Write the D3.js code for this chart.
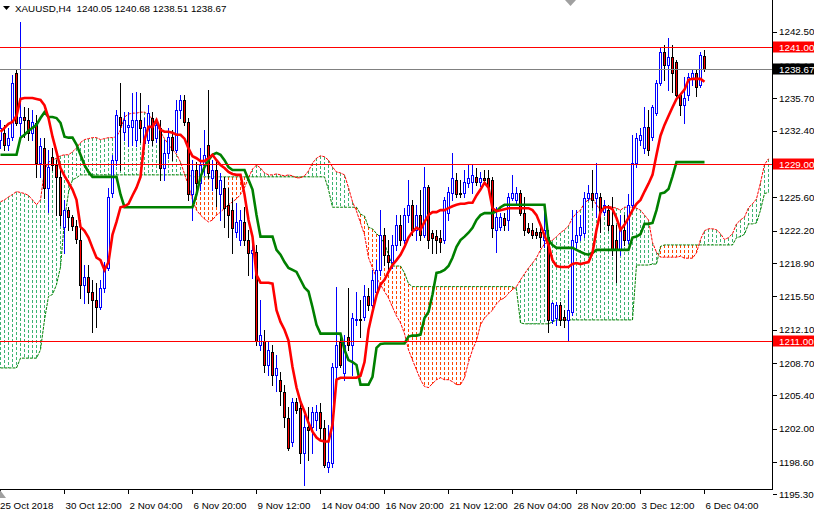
<!DOCTYPE html>
<html><head><meta charset="utf-8">
<script src="https://cdn.jsdelivr.net/npm/d3@7"></script>
<style>html,body{margin:0;padding:0;background:#fff}svg{display:block}</style>
</head><body><svg id="c" width="814" height="514"></svg>
<script>
// ---------- DATA ----------
const title = "XAUUSD,H4  1240.05 1240.68 1238.51 1238.67";
const opens = [
1231.5,1232.2,1231.0,1231.8,1238.3,1233.2,1233.8,1233.5,1232.2,1233.2,
1229.1,1230.65,1226.6,1229.75,1228.9,1227.7,1222.6,1224.3,1223.6,1222.7,
1221.25,1216.7,1217.5,1216.0,1215.15,1214.4,1216.4,1218.4,1226.1,1229.4,
1233.8,1232.3,1232.8,1232.8,1231.5,1233.5,1231.2,1231.5,1233.7,1231.7,
1232.7,1228.6,1230.15,1231.8,1230.45,1234.5,1235.55,1233.3,1225.9,1228.4,
1227.1,1228.9,1231.0,1227.6,1228.4,1225.9,1226.6,1224.85,1224.3,1222.1,
1221.25,1223.1,1221.25,1219.95,1220.05,1210.55,1211.0,1208.5,1209.85,1207.5,
1207.0,1205.7,1203.1,1200.6,1204.75,1204.15,1199.5,1202.2,1202.2,1202.9,
1203.75,1202.1,1198.1,1198.5,1208.3,1210.8,1207.7,1211.4,1210.55,1213.1,
1213.2,1213.4,1215.5,1214.6,1216.0,1218.2,1221.8,1219.75,1219.0,1220.75,
1222.8,1221.25,1223.8,1224.85,1222.3,1223.8,1221.8,1226.7,1222.0,1221.7,
1221.5,1221.25,1224.0,1226.1,1227.4,1226.1,1226.1,1227.1,1227.2,1227.7,
1227.2,1227.6,1227.6,1227.4,1222.3,1222.6,1223.5,1223.3,1225.55,1225.35,
1226.1,1224.0,1222.5,1222.3,1222.1,1222.1,1221.25,1221.6,1213.1,1213.3,
1214.6,1213.4,1213.1,1213.9,1221.05,1221.8,1222.0,1225.55,1226.1,1225.55,
1225.65,1224.1,1224.3,1222.8,1221.25,1220.25,1222.3,1221.25,1224.85,1229.1,
1231.5,1230.65,1232.8,1231.8,1234.2,1237.3,1240.4,1239.1,1239.9,1239.4,
1236.1,1235.0,1236.1,1237.8,1238.3,1237.1,1240.05];
const highs = [
1233.5,1233.0,1232.7,1238.1,1238.6,1243.5,1234.8,1234.7,1234.5,1234.0,
1231.7,1231.7,1230.45,1230.65,1229.4,1228.4,1225.35,1224.6,1223.8,1223.3,
1223.3,1218.7,1218.7,1217.2,1216.9,1217.2,1219.0,1226.6,1229.95,1234.5,
1237.3,1234.3,1234.3,1236.3,1236.4,1236.3,1233.7,1235.0,1234.3,1233.7,
1233.5,1231.5,1232.7,1232.5,1235.55,1236.1,1236.1,1233.7,1229.4,1229.2,
1230.65,1232.5,1236.6,1229.4,1229.4,1228.1,1227.7,1226.6,1225.55,1225.05,
1224.3,1224.6,1222.3,1221.25,1220.75,1215.15,1212.1,1211.0,1210.55,1209.5,
1207.8,1206.5,1204.25,1205.15,1205.15,1204.95,1203.4,1204.25,1204.25,1204.45,
1204.65,1202.9,1202.4,1208.7,1216.5,1211.8,1211.6,1216.4,1213.8,1215.9,
1215.15,1216.7,1216.4,1218.2,1219.2,1224.3,1222.5,1221.25,1221.8,1223.8,
1223.8,1224.5,1227.4,1225.35,1224.85,1226.4,1228.7,1226.9,1222.3,1222.3,
1222.3,1225.65,1226.7,1230.15,1228.1,1227.4,1228.4,1228.9,1228.9,1228.6,
1228.2,1228.4,1228.4,1227.7,1224.6,1224.0,1224.0,1226.1,1227.9,1226.7,
1226.4,1225.65,1223.0,1223.0,1222.5,1222.8,1224.85,1222.3,1214.95,1214.95,
1214.95,1214.1,1216.2,1224.3,1224.3,1223.8,1226.2,1226.9,1228.4,1229.1,
1226.1,1225.35,1224.85,1225.65,1222.8,1223.8,1223.8,1225.9,1232.0,1232.2,
1232.7,1234.8,1234.5,1235.0,1237.6,1241.0,1241.2,1241.9,1241.2,1239.6,
1236.2,1237.9,1238.3,1238.6,1238.6,1240.4,1240.68];
const lows = [
1230.65,1230.45,1230.45,1231.5,1233.0,1232.0,1231.8,1231.5,1231.5,1227.7,
1227.7,1225.55,1224.1,1228.4,1223.8,1222.8,1219.95,1222.3,1222.3,1220.95,
1215.35,1214.85,1214.85,1211.9,1212.4,1214.2,1215.9,1218.2,1225.65,1228.9,
1228.4,1231.5,1230.8,1231.0,1230.8,1231.3,1230.65,1231.2,1231.0,1231.3,
1227.4,1227.4,1229.6,1229.4,1230.25,1233.7,1233.0,1225.35,1223.3,1225.9,
1226.4,1227.9,1227.6,1226.4,1224.7,1223.3,1222.6,1221.6,1219.95,1221.6,
1220.75,1220.75,1217.7,1217.4,1210.55,1210.05,1207.8,1207.5,1206.5,1205.8,
1204.45,1202.2,1199.85,1200.2,1203.6,1198.5,1196.3,1198.8,1199.5,1201.9,
1200.9,1198.1,1197.6,1198.1,1207.2,1208.3,1207.0,1210.05,1207.5,1212.6,
1211.4,1213.1,1214.1,1214.4,1215.7,1217.7,1218.7,1218.0,1218.4,1220.25,
1220.75,1220.95,1223.1,1221.8,1221.25,1221.25,1221.6,1220.45,1219.95,1219.95,
1220.05,1220.95,1223.3,1225.35,1225.65,1225.65,1225.65,1226.7,1226.1,1226.9,
1226.8,1227.1,1226.4,1221.6,1220.05,1222.3,1222.3,1222.3,1225.35,1224.85,
1223.8,1221.8,1222.0,1221.5,1221.5,1220.55,1220.55,1211.9,1212.8,1212.6,
1212.6,1212.4,1211.0,1213.6,1220.25,1221.25,1221.6,1225.35,1224.6,1223.6,
1222.1,1223.8,1222.3,1219.75,1217.0,1219.75,1220.75,1220.95,1224.3,1228.7,
1231.0,1230.15,1229.95,1231.5,1234.0,1237.1,1237.6,1236.6,1236.4,1235.9,
1234.0,1233.2,1235.55,1237.1,1235.9,1236.9,1238.51];
const closes = [
1232.7,1231.0,1231.7,1237.3,1233.2,1233.8,1233.5,1232.2,1233.3,1229.1,
1230.8,1226.6,1228.7,1228.9,1227.7,1223.8,1224.3,1223.6,1222.7,1221.4,
1216.7,1217.5,1216.0,1215.15,1214.4,1216.4,1218.2,1225.65,1229.4,1234.0,
1233.0,1233.5,1233.0,1233.5,1233.5,1232.7,1232.8,1234.2,1231.5,1233.0,
1228.6,1230.15,1231.8,1230.45,1234.5,1235.55,1233.3,1225.9,1228.4,1227.1,
1228.9,1229.95,1228.1,1228.4,1226.6,1227.4,1224.5,1223.8,1222.5,1223.1,
1223.3,1221.25,1219.95,1220.25,1211.0,1211.6,1208.5,1210.05,1207.5,1208.2,
1205.8,1203.2,1200.05,1204.75,1203.95,1199.5,1202.2,1201.9,1203.75,1203.75,
1202.1,1198.3,1198.6,1208.3,1210.55,1208.5,1210.55,1210.55,1213.3,1213.2,
1213.1,1215.5,1214.6,1217.2,1218.2,1221.8,1219.75,1219.0,1220.75,1222.8,
1221.25,1223.8,1224.85,1222.3,1223.8,1221.8,1226.7,1221.25,1221.5,1221.25,
1221.05,1225.35,1226.2,1227.6,1225.9,1225.9,1227.2,1227.6,1227.9,1227.2,
1227.6,1227.4,1226.7,1222.5,1223.6,1223.6,1222.8,1225.65,1226.1,1226.1,
1224.0,1222.3,1222.1,1221.8,1221.8,1221.6,1222.3,1213.1,1214.85,1214.6,
1213.1,1213.1,1214.1,1221.25,1221.8,1222.6,1225.55,1226.1,1225.35,1226.1,
1224.1,1224.85,1222.8,1220.25,1220.25,1222.3,1221.25,1224.85,1229.1,1231.7,
1232.0,1232.8,1230.45,1234.8,1237.3,1240.4,1239.1,1239.9,1238.3,1236.1,
1235.0,1235.75,1237.9,1238.3,1236.9,1240.1,1238.67];
const tenkan = [
1232.3,1232.7,1233.1,1233.3,1233.9,1235.65,1235.75,1235.75,1235.75,1235.65,
1235.55,1235.0,1233.7,1231.8,1230.25,1228.6,1227.8,1227.1,1226.4,1225.35,
1222.6,1222.2,1221.5,1220.45,1219.45,1219.2,1218.2,1219.0,1221.8,1223.1,
1224.6,1224.7,1224.95,1225.8,1226.6,1227.7,1231.5,1232.8,1232.8,1233.5,
1232.5,1232.3,1232.3,1232.2,1232.0,1232.0,1231.6,1230.6,1229.8,1229.6,
1229.3,1229.3,1229.6,1229.95,1229.4,1228.9,1228.6,1228.2,1228.0,1227.9,
1227.9,1225.9,1223.3,1221.6,1217.7,1216.9,1216.9,1216.9,1216.8,1214.1,
1212.9,1212.1,1211.0,1208.3,1206.2,1204.75,1203.75,1202.6,1201.7,1201.1,
1200.8,1200.7,1200.7,1202.4,1207.0,1207.2,1207.2,1207.2,1207.2,1207.2,
1207.4,1208.8,1212.1,1213.9,1215.6,1216.7,1217.2,1218.0,1218.7,1219.2,
1219.75,1220.55,1221.5,1222.1,1222.5,1222.3,1223.1,1223.8,1224.1,1224.1,
1224.3,1224.3,1224.5,1224.7,1224.85,1224.95,1224.95,1225.05,1225.05,1225.8,
1226.4,1227.1,1226.6,1224.5,1224.2,1224.3,1224.4,1224.5,1224.5,1224.5,
1224.5,1224.5,1224.5,1224.3,1223.8,1222.8,1221.7,1220.75,1219.2,1218.6,
1218.5,1218.5,1218.5,1218.8,1218.9,1218.8,1218.9,1219.0,1219.95,1222.3,
1224.1,1224.6,1224.6,1224.4,1223.5,1222.3,1222.8,1223.5,1224.3,1224.95,
1225.35,1226.2,1227.0,1227.9,1229.95,1231.9,1233.0,1233.9,1234.8,1235.65,
1236.1,1236.6,1237.6,1237.7,1237.7,1237.7,1237.4];
const kijun = [
1229.95,1229.95,1229.95,1229.95,1229.95,1231.7,1232.0,1232.4,1232.7,1233.0,
1233.7,1234.3,1233.8,1233.8,1233.7,1233.2,1231.8,1231.7,1231.7,1231.0,
1229.95,1228.9,1228.2,1227.7,1227.7,1227.7,1227.7,1227.7,1227.7,1227.7,
1225.9,1224.6,1224.6,1224.6,1224.6,1224.6,1224.6,1224.6,1224.6,1224.6,
1224.6,1224.6,1224.6,1224.6,1224.6,1224.6,1224.6,1224.6,1224.6,1225.9,
1227.7,1228.7,1229.4,1229.95,1230.15,1229.95,1229.4,1228.7,1228.4,1228.4,
1228.4,1228.4,1227.4,1226.4,1223.8,1221.6,1221.6,1221.6,1221.6,1220.25,
1219.75,1219.0,1218.4,1218.2,1218.0,1217.2,1216.4,1216.0,1214.4,1212.6,
1211.7,1211.7,1211.7,1211.7,1211.7,1211.7,1210.05,1209.0,1208.8,1208.5,
1206.5,1206.5,1206.5,1207.3,1210.25,1210.65,1210.7,1210.7,1210.7,1210.7,
1210.7,1210.7,1211.4,1211.5,1211.5,1211.6,1213.3,1213.9,1215.7,1217.9,
1218.0,1218.2,1218.6,1219.45,1220.55,1221.25,1221.6,1222.0,1222.5,1223.3,
1223.8,1224.0,1224.0,1224.0,1224.2,1224.6,1224.85,1224.85,1224.85,1224.85,
1224.85,1224.85,1224.85,1224.85,1224.85,1224.85,1224.85,1221.25,1220.75,1220.45,
1220.45,1220.45,1220.45,1220.45,1220.25,1220.05,1219.85,1219.75,1219.95,1220.25,
1220.25,1220.25,1220.25,1220.25,1220.25,1220.25,1220.25,1220.25,1221.5,1221.6,
1221.85,1222.9,1222.9,1223.0,1224.3,1226.0,1226.1,1226.45,1227.75,1229.2,
1229.2,1229.2,1229.2,1229.2,1229.2,1229.2,1229.2];
const spanA = [
1225.15,1225.35,1225.65,1225.9,1226.2,1226.1,1226.0,1225.8,1225.35,1224.85,
1225.35,1228.4,1229.2,1229.4,1229.6,1229.85,1229.95,1229.95,1230.25,1230.65,
1231.2,1231.5,1231.6,1231.7,1231.7,1231.5,1231.6,1231.7,1231.7,1231.8,
1232.5,1233.8,1234.1,1234.2,1234.2,1234.3,1234.3,1234.0,1233.6,1233.0,
1232.3,1231.6,1231.0,1230.5,1230.0,1229.2,1228.0,1226.8,1225.35,1224.3,
1223.8,1223.4,1223.1,1223.3,1223.8,1224.1,1224.5,1224.85,1225.15,1225.45,
1225.9,1226.6,1227.6,1228.5,1228.9,1228.6,1228.1,1227.9,1227.9,1228.0,
1227.9,1227.8,1227.9,1227.8,1227.6,1227.6,1227.8,1228.3,1229.1,1229.6,
1229.85,1229.75,1229.4,1228.7,1228.2,1228.1,1227.9,1226.6,1225.15,1224.2,
1223.0,1221.8,1219.45,1218.4,1217.4,1216.7,1216.0,1215.35,1214.4,1213.5,
1212.8,1211.7,1210.05,1209.0,1208.0,1207.0,1206.3,1206.2,1206.6,1207.0,
1207.2,1207.0,1207.0,1206.8,1206.5,1206.5,1207.2,1208.8,1210.05,1211.0,
1212.6,1213.3,1213.7,1214.1,1214.75,1215.15,1215.35,1215.8,1216.2,1216.5,
1217.2,1217.8,1218.4,1218.9,1219.45,1220.25,1220.85,1221.05,1221.25,1221.6,
1222.0,1222.3,1222.7,1223.5,1224.0,1224.3,1225.05,1225.35,1225.55,1224.85,
1224.3,1224.6,1224.7,1224.6,1224.5,1224.3,1224.6,1224.6,1224.6,1224.5,
1224.3,1223.8,1223.3,1221.0,1220.0,1219.5,1219.5,1219.5,1219.5,1219.5,
1219.6,1219.4,1219.4,1219.4,1219.95,1221.3,1222.2,1222.4,1222.4,1222.3,
1221.9,1221.3,1221.5,1221.9,1222.9,1223.3,1223.6,1224.55,1224.95,1225.45,
1227.1,1228.95,1229.55];
const spanB = [
1208.2,1208.2,1208.2,1208.2,1208.2,1209.2,1209.2,1209.2,1209.2,1209.2,
1210.05,1213.1,1215.5,1215.7,1216.7,1218.5,1223.3,1226.1,1227.4,1227.6,
1227.9,1227.9,1227.9,1227.9,1227.9,1227.9,1227.9,1227.9,1227.9,1227.9,
1227.9,1227.9,1227.9,1227.9,1227.9,1227.9,1227.9,1227.9,1227.9,1227.9,
1227.9,1227.9,1227.9,1227.9,1227.9,1227.9,1227.9,1227.9,1227.7,1227.7,
1227.7,1227.7,1227.7,1227.7,1227.7,1227.7,1227.7,1227.7,1227.7,1227.7,
1227.7,1227.7,1227.7,1227.7,1227.7,1227.7,1227.7,1227.7,1227.7,1227.7,
1227.7,1227.7,1227.7,1227.7,1227.7,1227.7,1227.7,1227.7,1227.7,1227.7,
1227.7,1227.7,1226.4,1224.6,1224.6,1224.6,1224.6,1224.6,1224.6,1224.6,
1223.9,1223.7,1222.55,1222.4,1221.9,1221.55,1220.9,1219.75,1218.6,1218.6,
1218.6,1217.9,1216.8,1216.5,1216.5,1216.5,1216.5,1216.5,1216.5,1216.5,
1216.5,1216.5,1216.5,1216.5,1216.5,1216.5,1216.5,1216.5,1216.5,1216.5,
1216.5,1216.5,1216.5,1216.5,1216.5,1216.5,1216.5,1216.5,1216.5,1216.2,
1212.8,1212.7,1212.7,1212.7,1212.7,1212.7,1212.7,1212.7,1212.9,1213.1,
1213.1,1213.1,1213.1,1213.1,1213.1,1213.1,1213.1,1213.1,1213.1,1213.1,
1213.1,1213.1,1213.1,1213.1,1213.1,1213.1,1213.1,1213.1,1213.1,1218.7,
1218.7,1218.7,1218.7,1218.8,1218.8,1220.6,1220.75,1220.75,1220.75,1220.75,
1220.75,1220.75,1220.75,1220.75,1220.75,1220.75,1220.75,1220.75,1220.75,1220.75,
1220.75,1220.75,1220.75,1220.75,1221.5,1221.6,1221.85,1222.9,1222.9,1223.0,
1224.3,1226.0,1226.1];
const xTickBars   = [0,16,32,48,64,80,96,112,128,144,160,176];
const xTickLabels = ["25 Oct 2018","30 Oct 12:00","2 Nov 04:00","6 Nov 20:00","9 Nov 12:00","14 Nov 04:00",
                     "16 Nov 20:00","21 Nov 12:00","26 Nov 04:00","28 Nov 20:00","3 Dec 12:00","6 Dec 04:00"];
const yTickValues = [1242.50,1239.10,1235.70,1232.40,1229.00,1225.60,1222.20,1218.90,1215.50,1212.10,1208.70,1205.40,1202.00,1198.60,1195.30];
const levelLines  = [1241.00,1229.00,1211.00];
const bidPrice    = 1238.67;

// ---------- DRAWING ----------
const FONT = "'Liberation Sans', Arial, sans-serif";
const FS = "9.8px";
const plotRight = 772.5, plotBottom = 489.5;
const svg = d3.select("#c");
const defs = svg.append("defs");
const x = d3.scaleLinear().domain([0, 176]).range([0.5, 704.5]);
const y = d3.scaleLinear().domain([1211, 1241]).range([340.5, 46.5]);
const py = v => Math.round(y(v)) + 0.5;

defs.append("clipPath").attr("id","plot")
  .append("rect").attr("x",0).attr("y",0).attr("width",plotRight).attr("height",plotBottom);
const g = svg.append("g").attr("clip-path","url(#plot)");

// Ichimoku cloud (dotted histogram between Span A and Span B)
const cloudIdx = d3.range(spanA.length);
g.append("g").selectAll("line").data(cloudIdx).join("line")
  .attr("x1", j => x(j)).attr("x2", j => x(j))
  .attr("y1", j => Math.round(y(Math.max(spanA[j], spanB[j]))))
  .attr("y2", j => Math.round(y(Math.min(spanA[j], spanB[j]))))
  .attr("stroke", j => spanA[j] >= spanB[j] ? "#3cb371" : "#ff4500")
  .attr("stroke-width", 1).attr("stroke-dasharray", "3,2")
  .attr("shape-rendering","crispEdges");

// Span A / Span B boundary lines (dotted)
const lineGen = arr => d3.line().x((d, i) => x(i)).y(d => y(d))(arr);
g.append("path").attr("d", lineGen(spanB)).attr("fill","none").attr("stroke","#008000")
  .attr("stroke-width",1).attr("stroke-dasharray","3,1");
g.append("path").attr("d", lineGen(spanA)).attr("fill","none").attr("stroke","#ff0000")
  .attr("stroke-width",1).attr("stroke-dasharray","3,1");

// Candles
const idx = d3.range(opens.length);
const bull = i => closes[i] >= opens[i];
g.append("g").selectAll("line").data(idx).join("line")
  .attr("x1", i => x(i)).attr("x2", i => x(i))
  .attr("y1", i => Math.round(y(highs[i]))).attr("y2", i => Math.round(y(lows[i])) + 1)
  .attr("stroke", i => bull(i) ? "#0000ff" : "#000000")
  .attr("shape-rendering","crispEdges");
g.append("g").selectAll("rect").data(idx).join("rect")
  .attr("x", i => x(i) - 1)
  .attr("y", i => Math.round(y(Math.max(opens[i], closes[i]))) + 0.5)
  .attr("width", 2)
  .attr("height", i => Math.max(0, Math.round(y(Math.min(opens[i], closes[i]))) - Math.round(y(Math.max(opens[i], closes[i])))))
  .attr("fill", i => bull(i) ? "#ffffff" : "#ff0000")
  .attr("stroke", i => bull(i) ? "#0000ff" : "#000000")
  .attr("stroke-width", 1).attr("shape-rendering","crispEdges");

// Kijun & Tenkan
g.append("path").attr("d", lineGen(kijun)).attr("fill","none").attr("stroke","#008000").attr("stroke-width",2.6);
g.append("path").attr("d", lineGen(tenkan)).attr("fill","none").attr("stroke","#ff0000").attr("stroke-width",2.6);

// Horizontal level lines and bid line
g.append("g").selectAll("line").data(levelLines).join("line")
  .attr("x1",0).attr("x2",plotRight).attr("y1",d=>py(d)).attr("y2",d=>py(d))
  .attr("stroke","#ff0000").attr("shape-rendering","crispEdges");
g.append("line").attr("x1",0).attr("x2",plotRight).attr("y1",py(bidPrice)).attr("y2",py(bidPrice))
  .attr("stroke","#808080").attr("shape-rendering","crispEdges");

// Axes frame
svg.append("line").attr("x1",plotRight).attr("x2",plotRight).attr("y1",0).attr("y2",plotBottom+0.5)
  .attr("stroke","#000").attr("shape-rendering","crispEdges");
svg.append("line").attr("x1",0).attr("x2",plotRight+0.5).attr("y1",plotBottom).attr("y2",plotBottom)
  .attr("stroke","#000").attr("shape-rendering","crispEdges");

// Price label boxes geometry
const boxH = 11;
const boxTop = v => Math.round(y(v)) - 5.5;

// Y ticks; a scale label that sits under a price box only shows the part outside the box
const yt = svg.append("g");
yt.selectAll("line").data(yTickValues).join("line")
  .attr("x1",plotRight).attr("x2",plotRight+4).attr("y1",d=>py(d)).attr("y2",d=>py(d))
  .attr("stroke","#000").attr("shape-rendering","crispEdges");
const boxed = levelLines.concat([bidPrice]);
yTickValues.forEach((v, k) => {
  const t = yt.append("text").attr("x",779).attr("y",y(v)+3.5).text(v.toFixed(2))
    .attr("font-family",FONT).attr("font-size",FS).attr("fill","#000");
  const hit = boxed.find(b => Math.abs(y(b) - y(v)) < 10 && Math.abs(b - v) > 0.001);
  if (hit !== undefined) {
    defs.append("clipPath").attr("id","lc"+k).append("rect")
      .attr("x",774).attr("y",0).attr("width",40).attr("height",boxTop(hit));
    t.attr("clip-path","url(#lc"+k+")");
  }
});

// Price label boxes
function priceBox(v, bg){
  const yy = Math.round(y(v));
  svg.append("rect").attr("x",plotRight+0.5).attr("y",boxTop(v)).attr("width",814-plotRight).attr("height",boxH).attr("fill",bg);
  svg.append("text").attr("x",779).attr("y",yy+4).text(v.toFixed(2))
    .attr("font-family",FONT).attr("font-size",FS).attr("fill","#fff");
}
levelLines.forEach(v => priceBox(v, "#ff0000"));
priceBox(bidPrice, "#000000");

// X ticks
const xt = svg.append("g");
xt.selectAll("line").data(xTickBars).join("line")
  .attr("x1",d=>x(d)).attr("x2",d=>x(d)).attr("y1",plotBottom).attr("y2",plotBottom+4.5)
  .attr("stroke","#000").attr("shape-rendering","crispEdges");
xt.selectAll("text").data(xTickBars).join("text")
  .attr("x",(d,i)=> i===0 ? 0 : x(d)+1).attr("y",509).text((d,i)=>xTickLabels[i])
  .attr("font-family",FONT).attr("font-size",FS).attr("fill","#000");

// Title
svg.append("path").attr("d","M3,6 L10,6 L6.5,10 Z").attr("fill","#000");
svg.append("text").attr("x",15).attr("y",12).text(title)
  .attr("font-family",FONT).attr("font-size",FS).attr("fill","#000").style("white-space","pre");

// chart shift markers
svg.append("path").attr("d","M565,0 L576,0 L570.5,6 Z").attr("fill","#a0a0a0");
svg.append("path").attr("d","M0,490 L0,498 L6,498 Z").attr("fill","#a0a0a0");
</script></body></html>
